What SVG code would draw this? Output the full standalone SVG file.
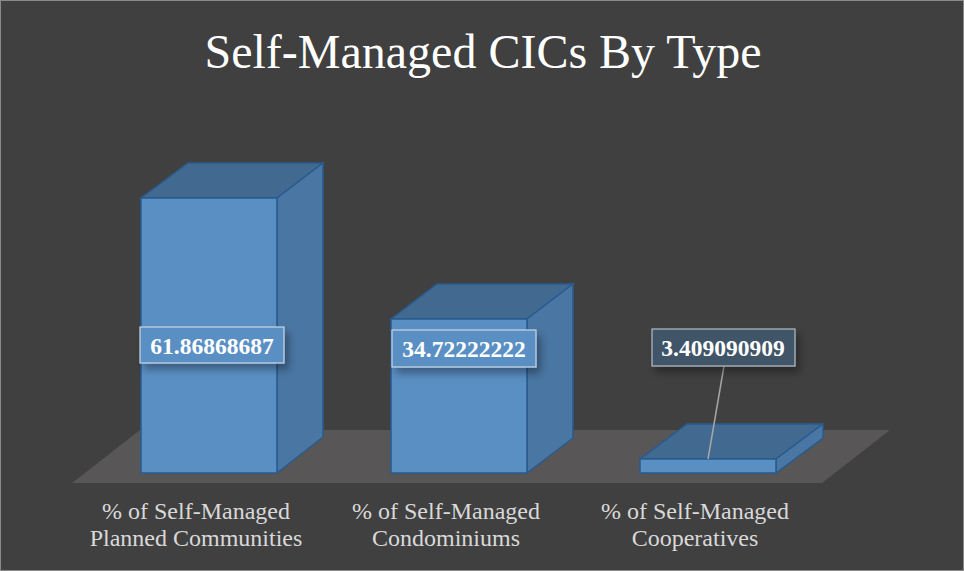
<svg xmlns="http://www.w3.org/2000/svg" width="964" height="571" viewBox="0 0 964 571">
<defs>
<style>
.front{fill:#5a8fc4;stroke:#285b8f;stroke-width:1.5}
.top{fill:#42698f;stroke:#285b8f;stroke-width:1.5}
.side{fill:#4a76a3;stroke:#285b8f;stroke-width:1.5}
.val{font-family:"Liberation Serif",serif;font-weight:bold;font-size:23.5px;fill:#ffffff;text-anchor:middle}
.lbl{fill:#5a8fc4;stroke:#c9d6e3;stroke-width:1.2}
.cat{font-family:"Liberation Serif",serif;font-size:24px;fill:#d9d9d9;text-anchor:middle}
</style>
<filter id="sh" x="-20%" y="-40%" width="150%" height="200%">
<feGaussianBlur in="SourceAlpha" stdDeviation="4"/>
<feOffset dx="4" dy="6"/>
<feComponentTransfer><feFuncA type="linear" slope="0.35"/></feComponentTransfer>
<feMerge><feMergeNode/><feMergeNode in="SourceGraphic"/></feMerge>
</filter>
</defs>
<rect x="0.5" y="0.5" width="963" height="570" fill="#404040" stroke="#8a8a8a" stroke-width="1"/>
<text x="483" y="68" font-family="Liberation Serif, serif" font-size="48" fill="#ffffff" text-anchor="middle">Self-Managed CICs By Type</text>
<polygon points="140,430 890,430 822,483 72,483" fill="#585656"/>
<g id="bar1">
<polygon class="top" points="141,198 188,163 323,163 277,198"/>
<polygon class="side" points="277,198 323,163 323,437 277,473"/>
<rect class="front" x="141" y="198" width="136" height="275"/>
</g>
<g id="bar2">
<polygon class="top" points="391,319 437,284 573,284 527,319"/>
<polygon class="side" points="527,319 573,284 573,438 527,473"/>
<rect class="front" x="391" y="319" width="136" height="154"/>
</g>
<g id="bar3">
<polygon class="top" points="640,459 687,424 823,424 776,459"/>
<polygon class="side" points="776,459 823,424 823,438 776,473"/>
<rect class="front" x="640" y="459" width="136" height="14"/>
</g>
<g id="connectors">
<line x1="724" y1="366" x2="708" y2="459" stroke="#a6a6a6" stroke-width="1.5"/>
</g>
<g id="label1">
<rect class="lbl" x="140" y="327" width="144" height="36" filter="url(#sh)"/>
<text class="val" x="212" y="354">61.86868687</text>
</g>
<g id="label2">
<rect class="lbl" x="392" y="330" width="144" height="37" filter="url(#sh)"/>
<text class="val" x="464" y="357">34.72222222</text>
</g>
<g id="label3">
<rect x="652" y="329" width="143" height="37" fill="#3f5468" stroke="#b4bcc6" stroke-width="1.2" filter="url(#sh)"/>
<text class="val" x="723" y="356">3.409090909</text>
</g>
<g id="cat1">
<text class="cat" x="196" y="519">% of Self-Managed</text>
<text class="cat" x="196" y="546">Planned Communities</text>
</g>
<g id="cat2">
<text class="cat" x="446" y="519">% of Self-Managed</text>
<text class="cat" x="446" y="546">Condominiums</text>
</g>
<g id="cat3">
<text class="cat" x="695" y="519">% of Self-Managed</text>
<text class="cat" x="695" y="546">Cooperatives</text>
</g>
</svg>
